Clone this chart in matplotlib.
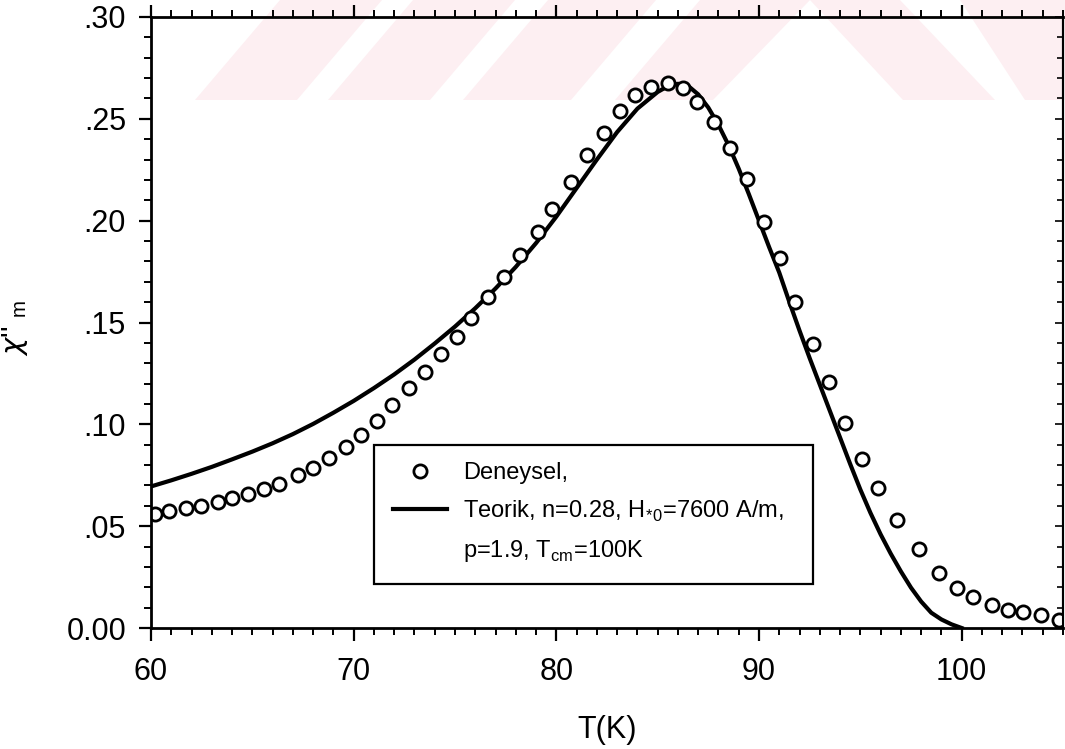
import numpy as np
import matplotlib
matplotlib.use("Agg")
import matplotlib.pyplot as plt
from matplotlib.ticker import MultipleLocator
from matplotlib.lines import Line2D
from matplotlib.patches import Polygon, Rectangle

plt.rcParams['font.family'] = ['Liberation Sans', 'DejaVu Sans']
plt.rcParams['mathtext.fontset'] = 'custom'
plt.rcParams['mathtext.rm'] = 'Liberation Sans'
plt.rcParams['mathtext.it'] = 'DejaVu Sans:italic'

# olculen (deneysel) chi'' degerleri
T_den = [60.2, 60.9, 61.75, 62.45, 63.3, 64.0, 64.8, 65.6, 66.3, 67.25, 68.0, 68.8,
         69.6, 70.35, 71.15, 71.9, 72.75, 73.5, 74.3, 75.1, 75.8, 76.65, 77.4, 78.2,
         79.1, 79.8, 80.7, 81.5, 82.35, 83.15, 83.9, 84.65, 85.5, 86.25, 86.95, 87.8,
         88.55, 89.4, 90.25, 91.05, 91.8, 92.65, 93.45, 94.25, 95.1, 95.85, 96.8, 97.9,
         98.9, 99.75, 100.55, 101.5, 102.3, 103.05, 103.9, 104.8]
chi_den = [0.0559, 0.0574, 0.0587, 0.0600, 0.0618, 0.0636, 0.0657, 0.0681, 0.0709, 0.0750,
           0.0786, 0.0837, 0.0889, 0.0948, 0.1016, 0.1095, 0.1178, 0.1258, 0.1347, 0.1430,
           0.1523, 0.1624, 0.1724, 0.1832, 0.1943, 0.2057, 0.2190, 0.2320, 0.2428, 0.2539,
           0.2616, 0.2657, 0.2676, 0.2649, 0.2585, 0.2485, 0.2359, 0.2203, 0.1995, 0.1815,
           0.1603, 0.1395, 0.1206, 0.1008, 0.0828, 0.0687, 0.0529, 0.0387, 0.0268, 0.0198,
           0.0150, 0.0111, 0.0088, 0.0077, 0.0064, 0.0039]

# teorik egri (n=0.28, H*0=7600 A/m, p=1.9, Tcm=100K)
T_teo = [60, 61, 62, 63, 64, 65, 66, 67, 68, 69, 70, 71, 72, 73, 74, 75, 76, 77, 78, 79,
         80, 81, 82, 83, 84, 85, 85.5, 86.0, 86.5, 87.0, 87.5, 88.0, 88.5, 89.0, 89.5,
         90.0, 90.5, 91.0, 91.5, 92.0, 92.5, 93.0, 93.5, 94.0, 94.5, 95.0, 95.5, 96.0,
         96.5, 97.0, 97.5, 98.0, 98.5, 99.0, 99.5, 100.0]
chi_teo = [0.0695, 0.0725, 0.0757, 0.0791, 0.0828, 0.0866, 0.0907, 0.0952, 0.1002, 0.1057,
           0.1115, 0.1178, 0.1245, 0.1318, 0.1397, 0.1480, 0.1570, 0.1667, 0.1773, 0.1890,
           0.2020, 0.2160, 0.2300, 0.2435, 0.2550, 0.2632, 0.2660, 0.2672, 0.2662, 0.2620,
           0.2555, 0.2470, 0.2370, 0.2255, 0.2130, 0.2000, 0.1870, 0.1745, 0.1600, 0.1460,
           0.1325, 0.1195, 0.1065, 0.0935, 0.0805, 0.0680, 0.0565, 0.0460, 0.0365, 0.0278,
           0.0198, 0.0130, 0.0075, 0.0042, 0.0018, 0.0]

xticks = [60, 70, 80, 90, 100]
yticks = [0.0, 0.05, 0.10, 0.15, 0.20, 0.25, 0.30]
ylabels = ['0.00', '.05', '.10', '.15', '.20', '.25', '.30']

W, H = 1065, 749
fig = plt.figure(figsize=(W / 100, H / 100), dpi=100)

def px(x, y):
    return (x / W, 1 - y / H)

# soluk pembe seritler (ust bant)
pembe = '#fdeff2'
seritler = [
    [(195, 100), (297, 100), (382, 0), (280, 0)],
    [(328, 100), (430, 100), (515, 0), (413, 0)],
    [(463, 100), (571, 100), (656, 0), (548, 0)],
    [(615, 100), (713, 100), (810, 0), (700, 0)],
    [(903, 100), (995, 100), (900, 0), (810, 0)],
    [(1025, 100), (1065, 100), (1065, 0), (960, 0)],
]
for s in seritler:
    fig.add_artist(Polygon([px(*p) for p in s], closed=True, transform=fig.transFigure,
                           facecolor=pembe, edgecolor='none', zorder=-5))

x0, y0 = px(151, 628)
x1, y1 = px(1063, 17)
ax = fig.add_axes([x0, y0, x1 - x0, y1 - y0])
ax.patch.set_alpha(0)

ax.plot(T_teo, chi_teo, '-', color='black', lw=3)
ax.plot(T_den, chi_den, 'o', mfc='white', mec='black', mew=2, ms=9.5)

ax.set_xlim(60, 105)
ax.set_ylim(0, 0.30)
ax.set_xticks(xticks)
ax.set_yticks(yticks)
ax.set_yticklabels(ylabels)
ax.xaxis.set_minor_locator(MultipleLocator(1))
ax.yaxis.set_minor_locator(MultipleLocator(0.01))
ax.tick_params(axis='x', which='both', direction='out', top=True, labeltop=False)
ax.tick_params(axis='y', which='both', direction='out', right=False)
ax.tick_params(which='major', length=9, width=1.6, labelsize=22)
ax.tick_params(which='minor', length=5, width=1.4)
ax.tick_params(axis='x', which='major', pad=12)
ax.tick_params(axis='y', which='major', pad=9)

sag = ax.secondary_yaxis('right')
sag.set_yticks(yticks)
sag.yaxis.set_minor_locator(MultipleLocator(0.01))
sag.tick_params(which='both', direction='in', labelright=False, width=1.2)
sag.tick_params(which='major', length=6)
sag.tick_params(which='minor', length=4)

for s in ['left', 'bottom', 'top']:
    ax.spines[s].set_linewidth(2)
ax.spines['right'].set_linewidth(1.5)
sag.spines['right'].set_linewidth(1.5)

ax.set_xlabel('T(K)', fontsize=22, labelpad=20)
ax.set_ylabel("$\\chi$'' $_{\\mathrm{m}}$", fontsize=21)
ax.yaxis.set_label_coords((30 - 151) / 912, 0.49)

handles = [Line2D([], [], ls='none', marker='o', mfc='white', mec='black', mew=2, ms=9.5),
           Line2D([], [], color='black', lw=3),
           Line2D([], [], ls='none')]
labels = ['Deneysel,',
          'Teorik, n=0.28, H$_{*}$$_{0}$=7600 A/m,',
          'p=1.9, T$_{\\mathrm{cm}}$=100K']
leg = ax.legend(handles, labels, loc='upper left', bbox_to_anchor=px(381, 450),
                bbox_transform=fig.transFigure, fontsize=17, frameon=False,
                handlelength=2.3, handletextpad=0.68, labelspacing=0.62,
                borderpad=0.5, borderaxespad=0)
leg.set_zorder(6)

# lejant cercevesi
lx0, ly0 = px(374, 584)
lx1, ly1 = px(813, 445)
ax.add_patch(Rectangle((lx0, ly0), lx1 - lx0, ly1 - ly0, transform=fig.transFigure,
                       facecolor='white', edgecolor='black', lw=1.6, zorder=5))

fig.savefig('out.png', dpi=100)
